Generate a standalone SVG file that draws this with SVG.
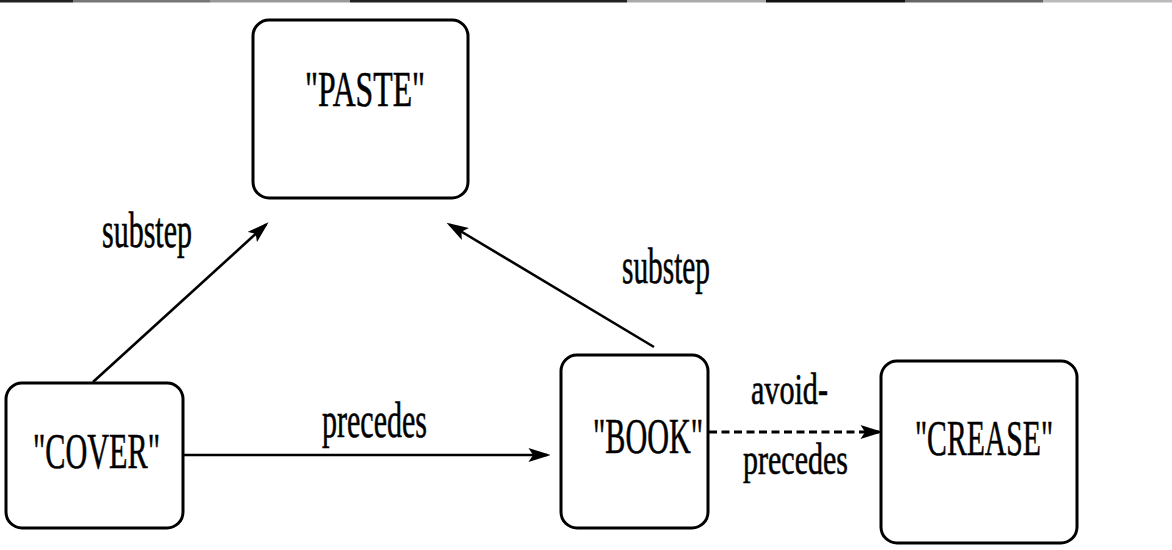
<svg xmlns="http://www.w3.org/2000/svg" width="1172" height="550" viewBox="0 0 1172 550">
<style>
.box{fill:#fff;stroke:#000;stroke-width:3}
.t{font-family:"Liberation Serif","Times New Roman",serif;font-size:50px;fill:#000;stroke:#000;stroke-width:0.6}
.s{font-size:44px}
.e{stroke:#000;stroke-width:2.6;fill:none}
.d{stroke:#000;stroke-width:3;fill:none;stroke-dasharray:8 4.5}
</style>
<defs>
<marker id="ah" markerUnits="userSpaceOnUse" markerWidth="22" markerHeight="14" viewBox="0 0 19 12" refX="16" refY="6" orient="auto">
<path d="M0,0 L19,6 L0,12 L4,6 z" fill="#000"/>
</marker>
</defs>
<rect width="1172" height="550" fill="#fff"/>
<g id="topline">
<rect x="0" y="0" width="73" height="2.5" fill="#222"/>
<rect x="73" y="0" width="137" height="2.5" fill="#777"/>
<rect x="210" y="0" width="140" height="2.5" fill="#999"/>
<rect x="350" y="0" width="277" height="2.5" fill="#222"/>
<rect x="627" y="0" width="139" height="2.5" fill="#aaa"/>
<rect x="766" y="0" width="139" height="2.5" fill="#111"/>
<rect x="905" y="0" width="138" height="2.5" fill="#666"/>
<rect x="1043" y="0" width="129" height="2.5" fill="#bbb"/>
</g>
<g id="edges">
<line class="e" x1="93" y1="382" x2="266" y2="224.5" marker-end="url(#ah)"/>
<line class="e" x1="654" y1="347" x2="449.5" y2="224.5" marker-end="url(#ah)"/>
<line class="e" x1="183" y1="455" x2="547" y2="455" marker-end="url(#ah)"/>
<line class="d" x1="709" y1="432" x2="879" y2="432" marker-end="url(#ah)"/>
<text class="t" transform="translate(102,247) scale(0.6,1)" x="0" y="0" textLength="150" lengthAdjust="spacingAndGlyphs">substep</text>
<text class="t" transform="translate(622,283) scale(0.6,1)" x="0" y="0" textLength="146.7" lengthAdjust="spacingAndGlyphs">substep</text>
<text class="t" transform="translate(322,437) scale(0.6,1)" x="0" y="0" textLength="175" lengthAdjust="spacingAndGlyphs">precedes</text>
<text class="t s" transform="translate(751,404) scale(0.6,1)" x="0" y="0" textLength="128.3" lengthAdjust="spacingAndGlyphs">avoid-</text>
<text class="t s" transform="translate(743,474) scale(0.6,1)" x="0" y="0" textLength="175" lengthAdjust="spacingAndGlyphs">precedes</text>
</g>
<g id="paste">
<rect class="box" x="253" y="20" width="215" height="178" rx="16"/>
<text class="t" transform="translate(305,106) scale(0.6,1)" x="0" y="0" textLength="200" lengthAdjust="spacingAndGlyphs">"PASTE"</text>
</g>
<g id="cover">
<rect class="box" x="6" y="383" width="177" height="145" rx="16"/>
<text class="t" transform="translate(33,468) scale(0.6,1)" x="0" y="0" textLength="211.7" lengthAdjust="spacingAndGlyphs">"COVER"</text>
</g>
<g id="book">
<rect class="box" x="561" y="355" width="147" height="173" rx="16"/>
<text class="t" transform="translate(593,453) scale(0.6,1)" x="0" y="0" textLength="183.3" lengthAdjust="spacingAndGlyphs">"BOOK"</text>
</g>
<g id="crease">
<rect class="box" x="881" y="361" width="196" height="182" rx="16"/>
<text class="t" transform="translate(915,455) scale(0.6,1)" x="0" y="0" textLength="230" lengthAdjust="spacingAndGlyphs">"CREASE"</text>
</g>
</svg>
